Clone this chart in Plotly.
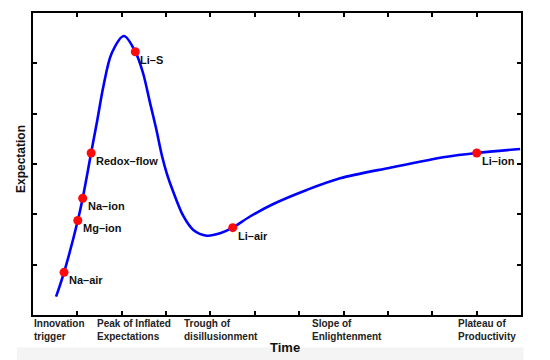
import plotly.graph_objects as go

# Hype-cycle curve (time, expectation)
curve_x = [0.52, 0.70, 1.01, 1.12, 1.31, 1.45, 1.585, 1.774, 2.051, 2.306, 2.48, 2.637,
           2.773, 2.908, 3.02, 3.163, 3.388, 3.614, 3.916, 4.216, 4.502, 4.891, 5.417,
           6.17, 6.921, 8.048, 9.326, 10.002, 10.98]
curve_y = [0.364, 0.848, 1.878, 2.319, 3.219, 3.874, 4.536, 5.20, 5.543, 5.231, 4.808, 4.219,
           3.715, 3.159, 2.801, 2.444, 1.967, 1.689, 1.576, 1.623, 1.735, 1.957, 2.205,
           2.484, 2.716, 2.927, 3.145, 3.219, 3.298]

# Technologies placed on the curve
tech_names = ["Na–air", "Mg–ion", "Na–ion", "Redox–flow", "Li–S", "Li–air", "Li–ion"]
tech_x = [0.70, 1.01, 1.12, 1.31, 2.306, 4.502, 10.002]
tech_y = [0.848, 1.878, 2.319, 3.219, 5.231, 1.735, 3.219]

# Phase labels along the time axis
phase_labels = ["Innovation<br>trigger", "Peak of Inflated<br>Expectations",
                "Trough of<br>disillusionment", "Slope of<br>Enlightenment",
                "Plateau of<br>Productivity"]
phase_x = [0.0, 1.42, 3.39, 6.27, 9.56]

x_ticks = [1, 2, 3, 4, 5, 6, 7, 8, 9, 10]
y_ticks = [1, 2, 3, 4, 5]

FONT = "Liberation Sans, Arial, Helvetica, sans-serif"

fig = go.Figure()
fig.add_trace(go.Scatter(x=curve_x, y=curve_y, mode="lines",
                         line=dict(color="#0000ff", width=2.6, shape="spline", smoothing=0.9),
                         hoverinfo="skip", showlegend=False))
fig.add_trace(go.Scatter(x=tech_x, y=tech_y, mode="markers",
                         marker=dict(color="#ff0a0a", size=9, line=dict(width=0)),
                         text=tech_names, showlegend=False))

annotations = []
for name, x, y in zip(tech_names, tech_x, tech_y):
    annotations.append(dict(x=x, y=y, xref="x", yref="y", text="<b>" + name + "</b>",
                            showarrow=False, xanchor="left", yanchor="middle",
                            xshift=3, yshift=-8,
                            font=dict(family=FONT, size=11, color="#111")))
for lab, x in zip(phase_labels, phase_x):
    annotations.append(dict(x=x, y=0, xref="x", yref="paper", text="<b>" + lab + "</b>",
                            showarrow=False, xanchor="left", yanchor="top", align="left",
                            xshift=-1, yshift=-1,
                            font=dict(family=FONT, size=10, color="#222")))
annotations.append(dict(x=0.5, y=0, xref="paper", yref="paper", text="<b>Time</b>",
                        showarrow=False, xanchor="center", yanchor="middle",
                        xshift=8, yshift=-32,
                        font=dict(family=FONT, size=13, color="#111")))
annotations.append(dict(x=0, y=0.5, xref="paper", yref="paper", text="<b>Expectation</b>",
                        showarrow=False, xanchor="center", yanchor="middle", textangle=-90,
                        xshift=-12, yshift=5,
                        font=dict(family=FONT, size=12, color="#111")))

axis_common = dict(showgrid=False, zeroline=False, showline=True, linecolor="black",
                   linewidth=2, mirror="ticks", ticks="inside", ticklen=4, tickwidth=1.5,
                   tickcolor="black", showticklabels=False)

fig.update_layout(
    width=550, height=360,
    margin=dict(l=33, r=29, t=13, b=45),
    paper_bgcolor="white", plot_bgcolor="white",
    xaxis=dict(range=[0, 11], tickvals=x_ticks, **axis_common),
    yaxis=dict(range=[0, 6], tickvals=y_ticks, **axis_common),
    annotations=annotations,
    shapes=[dict(type="rect", xref="paper", yref="paper", x0=-0.033, x1=1.005,
                 y0=-0.107, y1=-0.16, fillcolor="#f4f4f4", line=dict(width=0), layer="below")],
)

fig.write_html("out.html", config={"displayModeBar": False},
               post_script="document.body.style.margin='0';document.body.style.overflow='hidden';")
